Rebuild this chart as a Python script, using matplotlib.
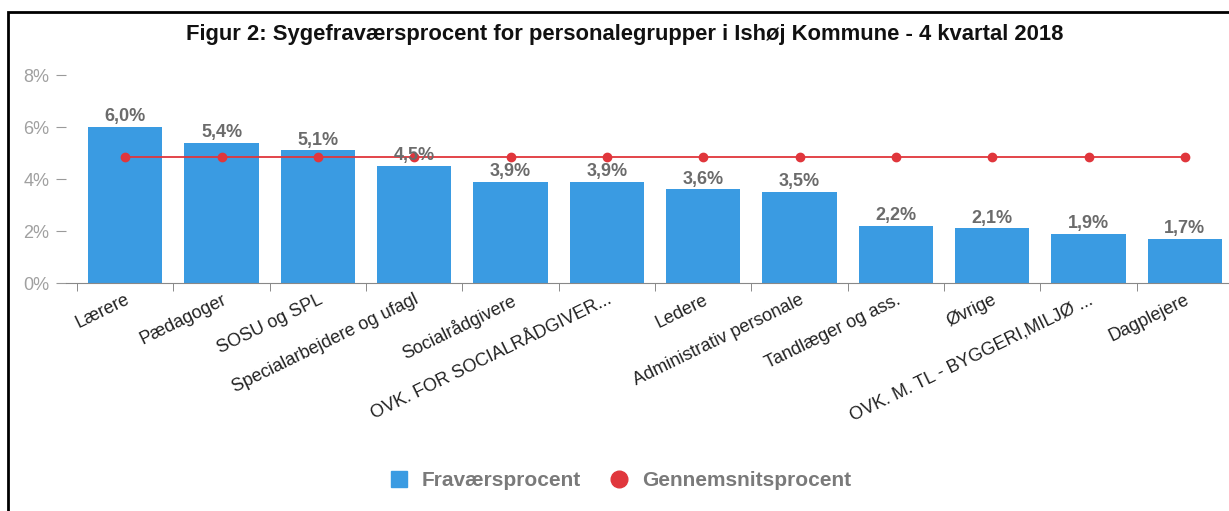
import numpy as np
import matplotlib.pyplot as plt
from matplotlib.patches import Rectangle
from matplotlib.lines import Line2D

# data
grupper = ["Lærere", "Pædagoger", "SOSU og SPL", "Specialarbejdere og ufagl",
           "Socialrådgivere", "OVK. FOR SOCIALRÅDGIVER...", "Ledere",
           "Administrativ personale", "Tandlæger og ass.", "Øvrige",
           "OVK. M. TL - BYGGERI,MILJØ ...", "Dagplejere"]
fravaer = [6.0, 5.4, 5.1, 4.5, 3.9, 3.9, 3.6, 3.5, 2.2, 2.1, 1.9, 1.7]
gennemsnit = [4.85] * 12
yticks = [0, 2, 4, 6, 8]

blue = "#3a9be2"
red = "#e0363c"

plt.rcParams['font.family'] = ['Liberation Sans', 'DejaVu Sans']

fig = plt.figure(figsize=(12.29, 5.11), dpi=100)
ax = fig.add_axes([66 / 1229, (511 - 283) / 511, (1233 - 66) / 1229, (283 - 75) / 511])

x = np.arange(len(grupper))
ax.bar(x, fravaer, width=0.77, color=blue, zorder=2)
ax.plot(x, gennemsnit, color=red, lw=1.3, marker='o', ms=6, zorder=3)

for xi, v in zip(x, fravaer):
    ax.text(xi, v + 0.06, f"{v:.1f}%".replace(".", ","), ha='center', va='bottom',
            fontsize=13, fontweight='bold', color='#6b6b6b', zorder=4)

ax.set_xlim(-0.5 - 11 / 96.3, 11.5)
ax.set_ylim(0, 8)
ax.set_yticks(yticks)
ax.set_yticklabels([f"{t}%" for t in yticks], color='#a0a0a0', fontsize=13)
ax.tick_params(axis='y', length=7, color='#9a9a9a', pad=5)

ax.set_xticks(x)
ax.set_xticklabels(grupper, rotation=26, ha='right', rotation_mode='anchor',
                   fontsize=13, color='#222222')
ax.tick_params(axis='x', length=0, pad=6)
ax.set_xticks(np.arange(-0.5, 12, 1), minor=True)
ax.tick_params(axis='x', which='minor', length=6, color='#777777', direction='out')

for s in ['top', 'right', 'left']:
    ax.spines[s].set_visible(False)
ax.spines['bottom'].set_color('#888888')

fig.text(0.508, 0.932, "Figur 2: Sygefraværsprocent for personalegrupper i Ishøj Kommune - 4 kvartal 2018",
         ha='center', va='center', fontsize=15.8, fontweight='bold', color='#111111')

handles = [Line2D([], [], ls='', marker='s', ms=12, color=blue),
           Line2D([], [], ls='', marker='o', ms=12, color=red)]
leg = fig.legend(handles, ["Fraværsprocent", "Gennemsnitsprocent"], loc='center',
                 bbox_to_anchor=(0.5, 0.06), ncol=2, frameon=False, fontsize=15,
                 handletextpad=0.1, columnspacing=0.8)
for t in leg.get_texts():
    t.set_color('#7a7a7a')
    t.set_fontweight('bold')

fig.patches.append(Rectangle((8 / 1229, -0.1), 1.1, (511 - 12) / 511 + 0.1,
                             transform=fig.transFigure, fill=False, ec='black', lw=2))

fig.savefig("out.png", dpi=100)
